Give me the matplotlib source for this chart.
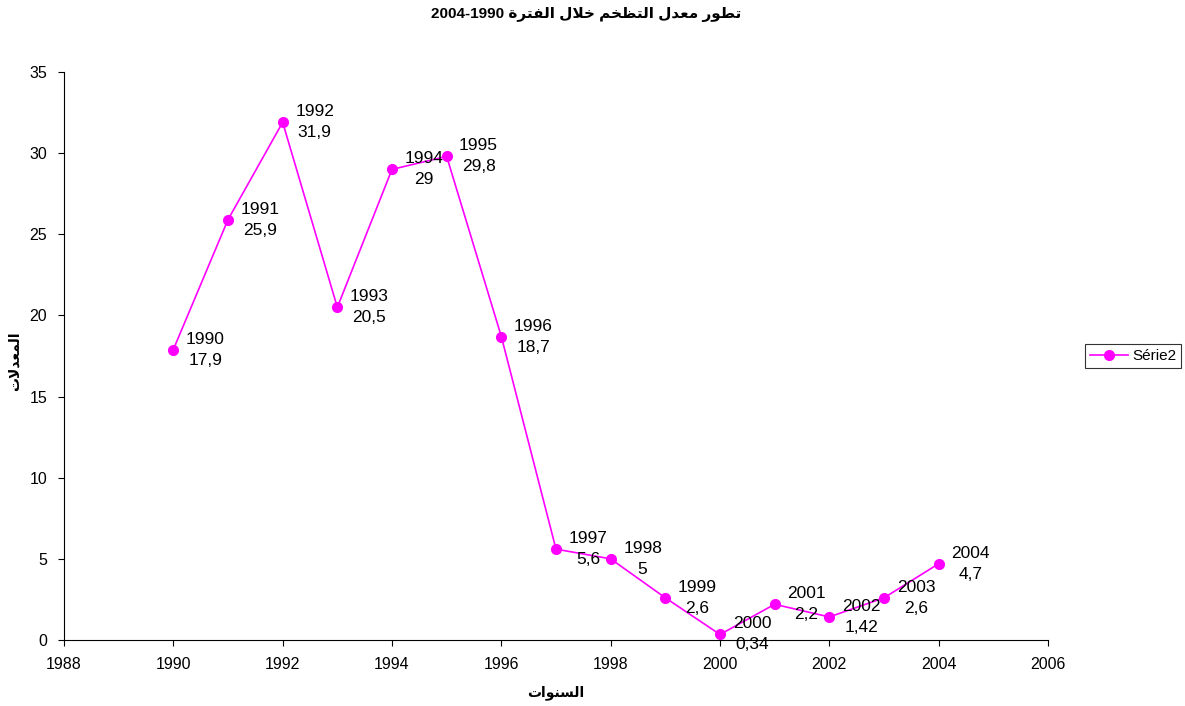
import matplotlib
matplotlib.use("Agg")
import matplotlib.pyplot as plt

# data
annees = [1990, 1991, 1992, 1993, 1994, 1995, 1996, 1997, 1998, 1999,
          2000, 2001, 2002, 2003, 2004]
taux = [17.9, 25.9, 31.9, 20.5, 29, 29.8, 18.7, 5.6, 5, 2.6,
        0.34, 2.2, 1.42, 2.6, 4.7]
etiquettes = ["17,9", "25,9", "31,9", "20,5", "29", "29,8", "18,7", "5,6", "5", "2,6",
              "0,34", "2,2", "1,42", "2,6", "4,7"]
titre = "تطور معدل التظخم خلال الفترة"
titre_num = "2004-1990"
xlabel = "السنوات"
ylabel = "المعدلات"
serie = "Série2"

# small arabic shaper (matplotlib does no shaping): iso, fin, ini, med
FORMS = {
    'ا': (0xFE8D, 0xFE8E), 'ة': (0xFE93, 0xFE94), 'د': (0xFEA9, 0xFEAA),
    'ر': (0xFEAD, 0xFEAE), 'و': (0xFEED, 0xFEEE),
    'ت': (0xFE95, 0xFE96, 0xFE97, 0xFE98), 'خ': (0xFEA5, 0xFEA6, 0xFEA7, 0xFEA8),
    'س': (0xFEB1, 0xFEB2, 0xFEB3, 0xFEB4), 'ط': (0xFEC1, 0xFEC2, 0xFEC3, 0xFEC4),
    'ظ': (0xFEC5, 0xFEC6, 0xFEC7, 0xFEC8), 'ع': (0xFEC9, 0xFECA, 0xFECB, 0xFECC),
    'ف': (0xFED1, 0xFED2, 0xFED3, 0xFED4), 'ل': (0xFEDD, 0xFEDE, 0xFEDF, 0xFEE0),
    'م': (0xFEE1, 0xFEE2, 0xFEE3, 0xFEE4), 'ن': (0xFEE5, 0xFEE6, 0xFEE7, 0xFEE8),
}


def shape_word(w):
    # lam-alef ligature
    chars = []
    i = 0
    while i < len(w):
        if w[i] == 'ل' and i + 1 < len(w) and w[i + 1] == 'ا':
            chars.append('LA')
            i += 2
        else:
            chars.append(w[i])
            i += 1
    out = []
    for k, c in enumerate(chars):
        prev = chars[k - 1] if k > 0 else None
        nxt = chars[k + 1] if k + 1 < len(chars) else None
        join_prev = prev is not None and prev != 'LA' and len(FORMS[prev]) == 4
        if c == 'LA':
            out.append(chr(0xFEFC if join_prev else 0xFEFB))
            continue
        f = FORMS[c]
        join_next = nxt is not None and len(f) == 4
        if join_prev and join_next:
            out.append(chr(f[3]))
        elif join_prev:
            out.append(chr(f[1]))
        elif join_next:
            out.append(chr(f[2]))
        else:
            out.append(chr(f[0]))
    return ''.join(out)


def ar(s):
    shaped = ' '.join(shape_word(w) for w in s.split(' '))
    return shaped[::-1]


plt.rcParams['font.family'] = ['Liberation Sans', 'DejaVu Sans']

fig = plt.figure(figsize=(11.85, 7.06), dpi=100)
ax = fig.add_axes([64 / 1185, 66 / 706, (1048 - 64) / 1185, (640 - 72) / 706])

ax.plot(annees, taux, color='#FF00FF', lw=1.2, marker='o', ms=7, label=serie)

for x, y, t in zip(annees, taux, etiquettes):
    ax.annotate(f"{x}\n{t}", (x, y), xytext=(23, 0), textcoords='offset points',
                ha='center', va='center', multialignment='center', fontsize=12.5,
                linespacing=1.5)

ax.set_xlim(1988, 2006)
ax.set_ylim(0, 35)
ax.set_xticks(range(1988, 2007, 2))
ax.set_yticks(range(0, 36, 5))
ax.tick_params(labelsize=11.5, length=4, width=0.8, direction='out', pad=8)
ax.spines['top'].set_visible(False)
ax.spines['right'].set_visible(False)

fig.text(586 / 1185, 1 - 14 / 706, titre_num + " " + ar(titre),
         ha='center', va='center', fontsize=11, fontweight='bold')
ax.set_xlabel(ar(xlabel), fontsize=10, fontweight='bold', labelpad=10)
ax.set_ylabel(ar(ylabel), fontsize=10, fontweight='bold')
ax.yaxis.set_label_coords(-0.043, 0.49)

leg = ax.legend(loc='center left', bbox_to_anchor=(1.03, 0.5), fontsize=11,
                frameon=True, fancybox=False, edgecolor='black', borderpad=0.3,
                handlelength=2.5, handletextpad=0.3)
leg.get_frame().set_linewidth(0.8)

fig.savefig('out.png', dpi=100)
